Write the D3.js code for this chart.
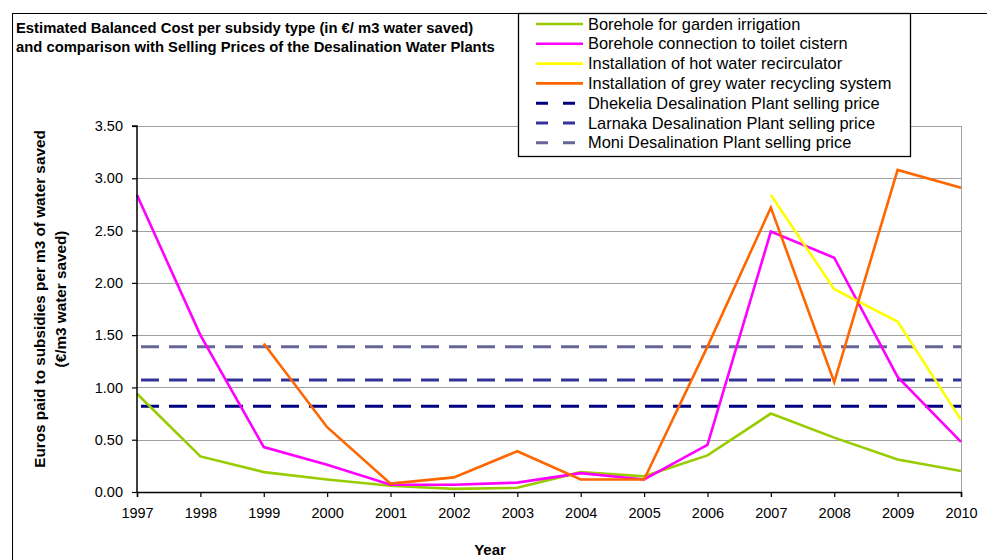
<!DOCTYPE html>
<html>
<head>
<meta charset="utf-8">
<script src="https://cdn.jsdelivr.net/npm/d3@7"></script>
<style>
  html, body { margin: 0; padding: 0; background: #fff; }
  svg { display: block; font-family: "Liberation Sans", Arial, sans-serif; }
</style>
</head>
<body>
<svg id="chart" width="987" height="560"></svg>
<script>
// Years on the category axis
const years = ["1997","1998","1999","2000","2001","2002","2003","2004","2005","2006","2007","2008","2009","2010"];

// Estimated balanced cost per subsidy type (€/m3 water saved); null = no value for that year
const gardenIrrigation = [0.94, 0.34, 0.19, 0.12, 0.06, 0.03, 0.04, 0.19, 0.15, 0.35, 0.75, 0.52, 0.31, 0.20];
const toiletCistern    = [2.84, 1.50, 0.43, 0.26, 0.07, 0.07, 0.09, 0.18, 0.12, 0.45, 2.49, 2.24, 1.10, 0.48];
const hotWaterRecirc   = [null, null, null, null, null, null, null, null, null, null, 2.84, 1.94, 1.63, 0.69];
const greyWaterRecycl  = [null, null, 1.42, 0.62, 0.08, 0.14, 0.39, 0.12, 0.12, 1.39, 2.72, 1.05, 3.08, 2.91];

// Desalination plant selling prices (€/m3)
const dhekeliaPrice = 0.82;
const larnakaPrice  = 1.07;
const moniPrice     = 1.39;

const yTicks = [0, 0.5, 1, 1.5, 2, 2.5, 3, 3.5];

const series = [
  { name: "Borehole for garden irrigation", values: gardenIrrigation, color: "#99cc00" },
  { name: "Borehole connection to toilet cistern", values: toiletCistern, color: "#ff00ff" },
  { name: "Installation of hot water recirculator", values: hotWaterRecirc, color: "#ffff00" },
  { name: "Installation of grey water recycling system", values: greyWaterRecycl, color: "#ff6600" }
];
const priceLines = [
  { name: "Dhekelia Desalination Plant selling price", value: dhekeliaPrice, color: "#000080" },
  { name: "Larnaka Desalination Plant selling price", value: larnakaPrice, color: "#333399" },
  { name: "Moni Desalination Plant selling price", value: moniPrice, color: "#666699" }
];

const svg = d3.select("#chart");
const plot = { left: 137, right: 961, top: 126, bottom: 492 };

const x = d3.scalePoint().domain(years).range([plot.left, plot.right]);
const y = d3.scaleLinear().domain([0, 3.5]).range([plot.bottom, plot.top]);

// Outer chart frame
svg.append("rect")
  .attr("x", 12.5).attr("y", 13.5)
  .attr("width", 1000).attr("height", 600)
  .attr("fill", "#fff").attr("stroke", "#000").attr("stroke-width", 1);

// Horizontal gridlines
svg.append("g")
  .selectAll("line")
  .data(yTicks.filter(d => d > 0))
  .join("line")
  .attr("x1", plot.left).attr("x2", plot.right)
  .attr("y1", d => Math.round(y(d)) + 0.5).attr("y2", d => Math.round(y(d)) + 0.5)
  .attr("stroke", "#a0a0a0").attr("stroke-width", 1);

// Right edge of plot area
svg.append("line")
  .attr("x1", plot.right + 0.5).attr("x2", plot.right + 0.5)
  .attr("y1", plot.top).attr("y2", plot.bottom)
  .attr("stroke", "#a0a0a0").attr("stroke-width", 1);

// Selling price reference lines
svg.append("g")
  .selectAll("line")
  .data(priceLines)
  .join("line")
  .attr("x1", plot.left).attr("x2", plot.right)
  .attr("y1", d => y(d.value)).attr("y2", d => y(d.value))
  .attr("stroke", d => d.color).attr("stroke-width", 3)
  .attr("stroke-dasharray", "18,10")
  .attr("stroke-dashoffset", -4);

// Cost series
const line = d3.line()
  .defined(d => d != null)
  .x((d, i) => x(years[i]))
  .y(d => y(d));

svg.append("g")
  .selectAll("path")
  .data(series)
  .join("path")
  .attr("d", d => line(d.values))
  .attr("fill", "none")
  .attr("stroke", d => d.color)
  .attr("stroke-width", 2.6)
  .attr("stroke-linejoin", "miter");

// Axes
const yAxis = d3.axisLeft(y).tickValues(yTicks).tickFormat(d3.format(".2f")).tickSize(5).tickPadding(9);
const xAxis = d3.axisBottom(x).tickSize(5).tickPadding(11);

const gy = svg.append("g").attr("transform", `translate(${plot.left},0)`).call(yAxis);
const gx = svg.append("g").attr("transform", `translate(0,${plot.bottom})`).call(xAxis);
[gx, gy].forEach(g => {
  g.select(".domain").attr("stroke", "#000").attr("stroke-width", 1.5);
  g.selectAll(".tick line").attr("stroke", "#000").attr("stroke-width", 1.2);
  g.selectAll(".tick text").attr("fill", "#000").style("font-size", "14.5px")
    .style("font-family", "'Liberation Sans', Arial, sans-serif");
});
gy.select(".domain").attr("d", `M-5,${plot.top}H0V${plot.bottom}`);

// Axis titles
svg.append("text")
  .attr("x", 490).attr("y", 555)
  .attr("text-anchor", "middle")
  .attr("font-weight", "bold").attr("font-size", 15)
  .text("Year");

const yTitle = svg.append("text")
  .attr("transform", "translate(45,299) rotate(-90)")
  .attr("text-anchor", "middle")
  .attr("font-weight", "bold").attr("font-size", 15.3);
yTitle.append("tspan").attr("x", 0).attr("y", 0).text("Euros paid to subsidies per m3 of water saved");
yTitle.append("tspan").attr("x", 0).attr("y", 21).text("(€/m3 water saved)");

// Chart title
const title = svg.append("text")
  .attr("font-weight", "bold").attr("font-size", 14.8);
title.append("tspan").attr("x", 16).attr("y", 33).text("Estimated Balanced Cost per subsidy type (in €/ m3 water saved)");
title.append("tspan").attr("x", 16).attr("y", 52).text("and comparison with Selling Prices of the Desalination Water Plants");

// Legend
const legend = svg.append("g");
legend.append("rect")
  .attr("x", 518.5).attr("y", 13.5)
  .attr("width", 392).attr("height", 143)
  .attr("fill", "#fff").attr("stroke", "#000").attr("stroke-width", 1.3);

const legendItems = series.map(s => ({ name: s.name, color: s.color, dashed: false }))
  .concat(priceLines.map(p => ({ name: p.name, color: p.color, dashed: true })));

const rows = legend.selectAll("g.item")
  .data(legendItems)
  .join("g")
  .attr("class", "item")
  .attr("transform", (d, i) => `translate(0,${24 + i * 19.8})`);

rows.append("line")
  .attr("x1", 536).attr("x2", 583)
  .attr("y1", 0).attr("y2", 0)
  .attr("stroke", d => d.color)
  .attr("stroke-width", d => d.dashed ? 3 : 2.6)
  .attr("stroke-dasharray", d => d.dashed ? "12,15" : null);

rows.append("text")
  .attr("x", 588).attr("y", 5.5)
  .attr("font-size", 16.4)
  .attr("fill", "#000")
  .text(d => d.name);
</script>
</body>
</html>
